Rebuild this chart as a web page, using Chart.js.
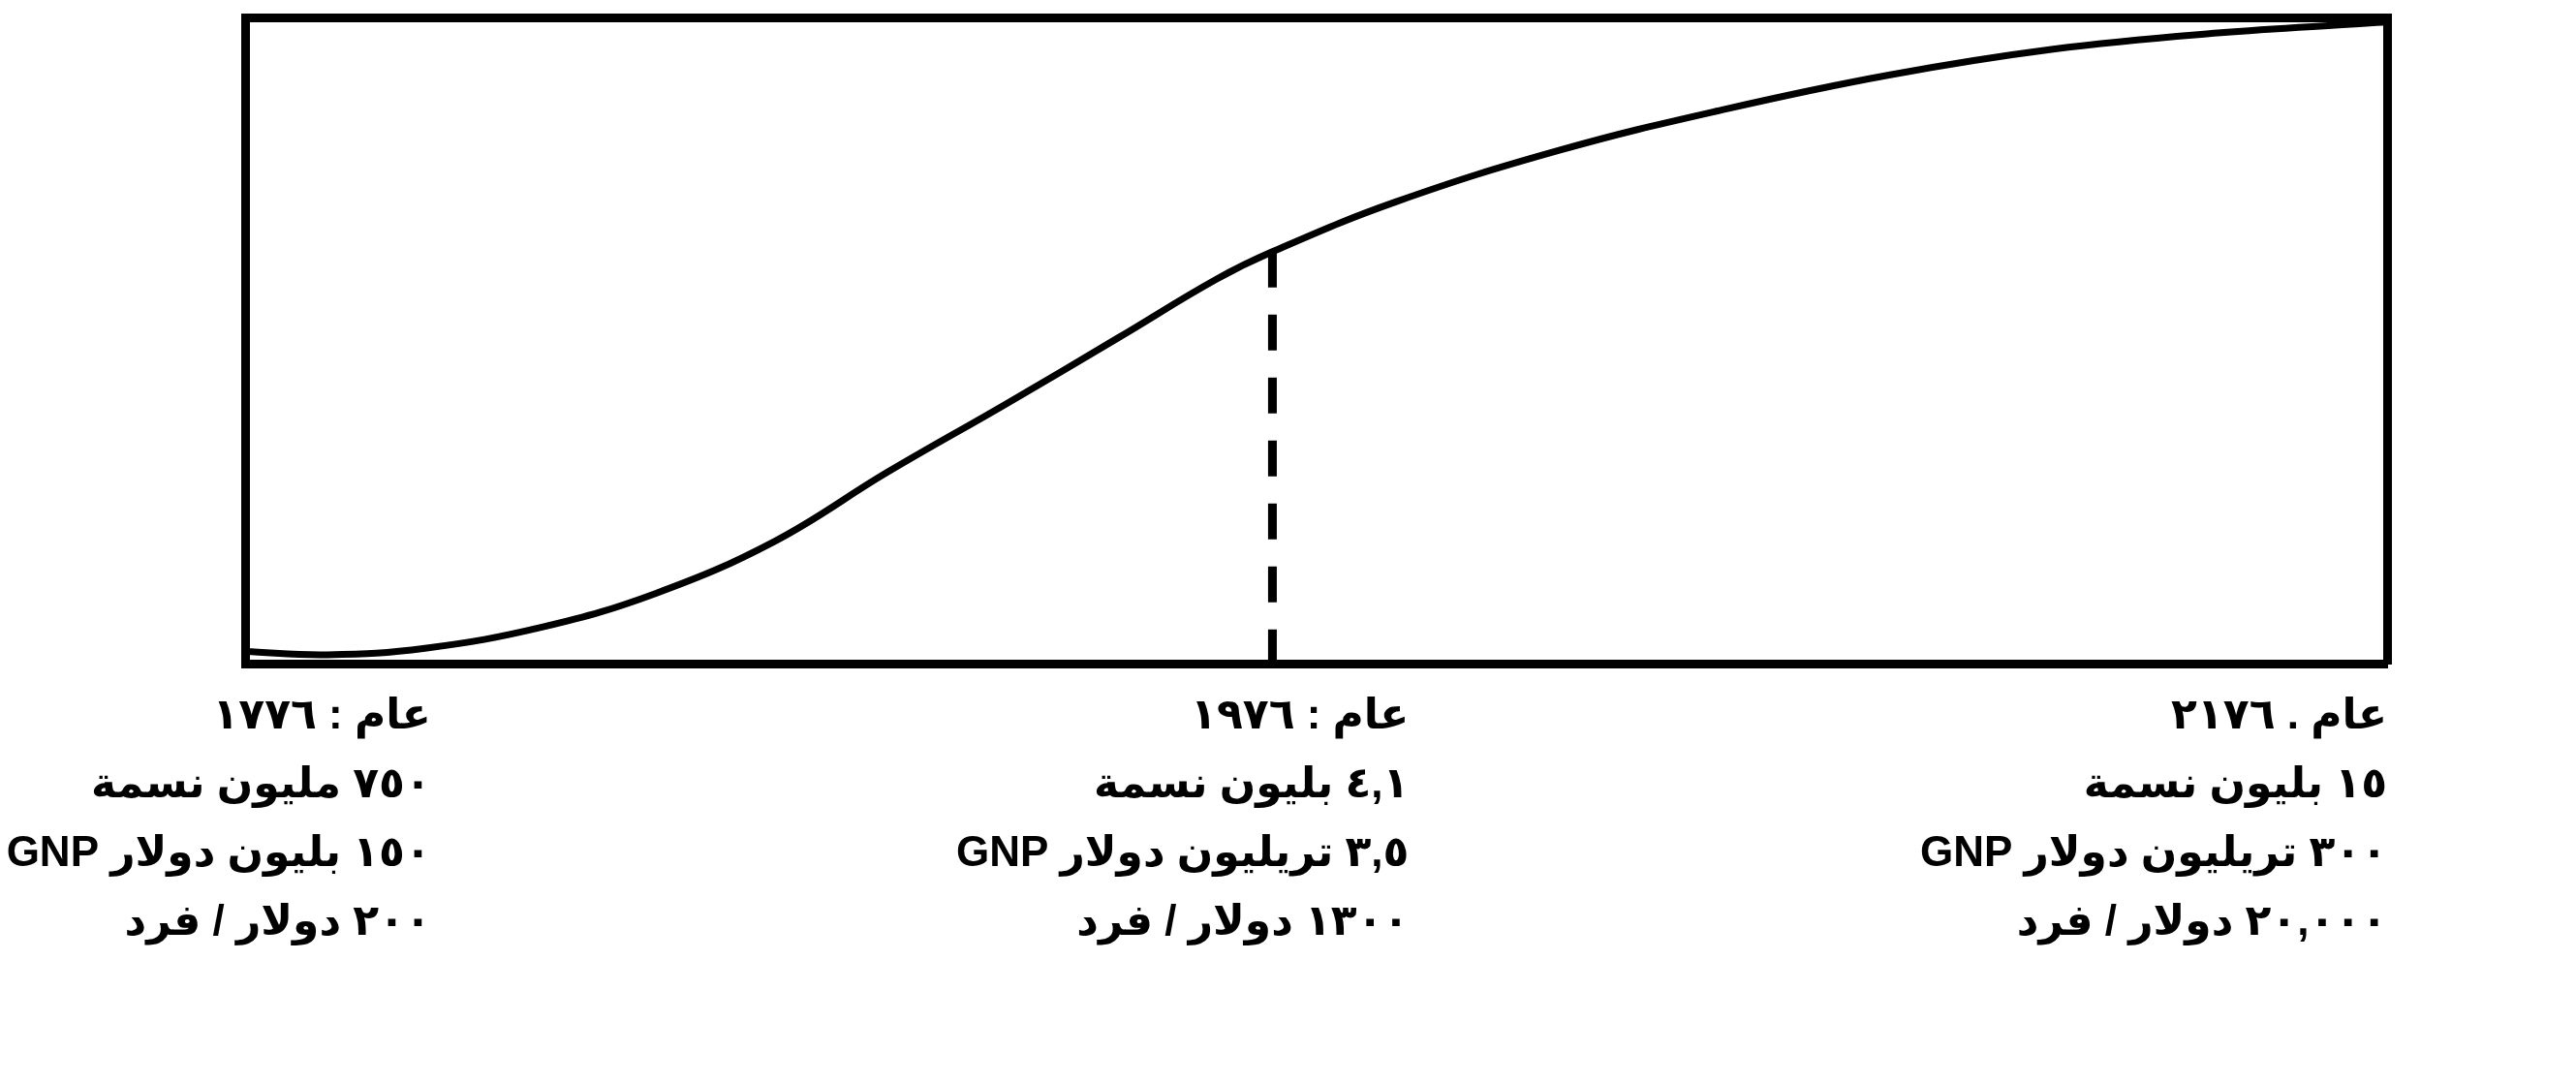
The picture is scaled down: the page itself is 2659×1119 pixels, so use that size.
<!DOCTYPE html>
<html lang="ar">
<head>
<meta charset="utf-8">
<script src="https://cdn.jsdelivr.net/npm/chart.js@4.4.1/dist/chart.umd.min.js"></script>
<style>
  html, body { margin: 0; padding: 0; background: #fff; }
  canvas { display: block; }
</style>
</head>
<body>
<canvas id="growth" width="2659" height="1119" dir="rtl"></canvas>
<script>
// the three years on the bottom edge, four lines of text under each
const tickYears = [1776, 1976, 2176];
const yearLabels = ['عام : ١٧٧٦', 'عام : ١٩٧٦', 'عام . ٢١٧٦'];
const populationLabels = ['٧٥٠ مليون نسمة', '٤,١ بليون نسمة', '١٥ بليون نسمة'];
const gnpLabels = ['١٥٠ بليون دولار GNP', '٣,٥ تريليون دولار GNP', '٣٠٠ تريليون دولار GNP'];
const perCapitaLabels = ['٢٠٠ دولار / فرد', '١٣٠٠ دولار / فرد', '٢٠,٠٠٠ دولار / فرد'];

// the growth curve (y = share of the box height, 0..100)
const curveYears  = [1776, 1792, 1811, 1834, 1856, 1879, 1901, 1924, 1946, 1965,
                     1976, 2000, 2032, 2064, 2096, 2128, 2160, 2189, 2193];
const curveValues = [2.0, 1.5, 2.5, 5.8, 11.0, 19.0, 29.7, 40.2, 50.5, 59.5,
                     63.8, 71.5, 79.5, 85.8, 91.1, 95.1, 97.6, 99.1, 99.3];

// dashed drop line at "today"
const markerYear = 1976;
const markerValue = 63.8;

const labelFont = {
    family: "'Liberation Sans', 'DejaVu Sans', sans-serif",
    size: 44,
    weight: 'bold',
    lineHeight: 1.614
};

// plain frame side: axis with only its border line
function frameSide(position, min, max) {
    return {
        type: 'linear',
        position: position,
        min: min,
        max: max,
        grid: { display: false, drawTicks: false },
        ticks: { display: false },
        border: { color: '#000', width: 9 }
    };
}

const ctx = document.getElementById('growth');

const chart = new Chart(ctx, {
    type: 'line',
    data: {
        datasets: [{
            label: 'growth',
            data: curveYears.map((year, i) => ({ x: year, y: curveValues[i] })),
            borderColor: '#000',
            borderWidth: 7,
            pointRadius: 0,
            tension: 0.4,
            fill: false
        }, {
            label: '1976',
            data: [{ x: markerYear, y: markerValue }, { x: markerYear, y: 0 }],
            borderColor: '#000',
            borderWidth: 9,
            borderDash: [37, 28],
            pointRadius: 0,
            fill: false
        }]
    },
    options: {
        responsive: false,
        animation: false,
        devicePixelRatio: 1,
        layout: {
            padding: { left: 253, right: 195, top: 18, bottom: 113 }
        },
        plugins: {
            legend: { display: false },
            tooltip: { enabled: false }
        },
        scales: {
            x: Object.assign(frameSide('bottom', 1776, 2193), { weight: 0 }),
            // text blocks under the box: right-aligned, set a bit tighter than the curve's years
            years: {
                type: 'linear',
                position: 'bottom',
                weight: 1,
                min: 1738,
                max: 2176,
                afterBuildTicks: axis => {
                    axis.ticks = tickYears.map(v => ({ value: v }));
                },
                afterFit: axis => {
                    axis.paddingLeft = 0;
                    axis.paddingRight = 0;
                },
                grid: { display: false, drawTicks: false },
                border: { display: false },
                ticks: {
                    align: 'end',
                    autoSkip: false,
                    maxRotation: 0,
                    minRotation: 0,
                    padding: 18,
                    color: '#000',
                    font: labelFont,
                    callback: (value, i) => [yearLabels[i], populationLabels[i], gnpLabels[i], perCapitaLabels[i]]
                }
            },
            xTop: frameSide('top', 1776, 2193),
            y: frameSide('left', 0, 100),
            yRight: frameSide('right', 0, 100)
        }
    }
});
</script>
</body>
</html>
